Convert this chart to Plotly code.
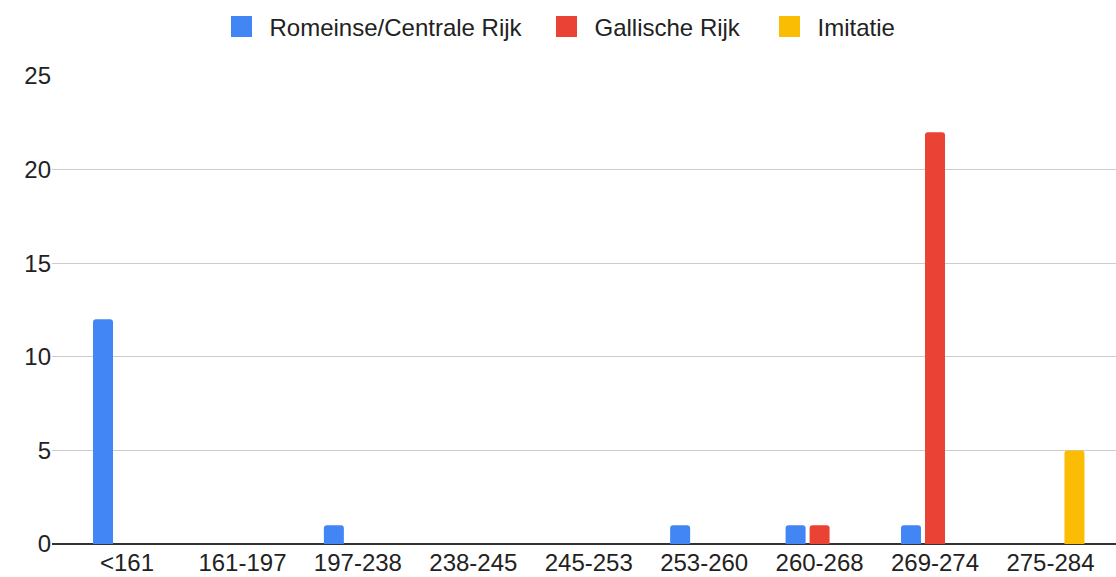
import plotly.graph_objects as go

categories = ["<161", "161-197", "197-238", "238-245", "245-253", "253-260", "260-268", "269-274", "275-284"]
romeinse = [12, 0, 1, 0, 0, 1, 1, 1, 0]
gallische = [0, 0, 0, 0, 0, 0, 1, 22, 0]
imitatie = [0, 0, 0, 0, 0, 0, 0, 0, 5]
y_ticks = [0, 5, 10, 15, 20, 25]

series = [
    ("Romeinse/Centrale Rijk", romeinse, "#4285F4"),
    ("Gallische Rijk", gallische, "#EA4335"),
    ("Imitatie", imitatie, "#FBBC04"),
]
legend_ids = ["legend", "legend2", "legend3"]
legend_left_px = [227, 552, 775]

W, H = 1116, 577
FS = 24

fig = go.Figure()
for i, (name, vals, color) in enumerate(series):
    fig.add_trace(go.Bar(
        x=categories, y=vals, name=name,
        showlegend=False,
        marker=dict(color=color, line=dict(width=0)),
    ))
# legend entries with larger square swatches, one legend per entry
for i, (name, vals, color) in enumerate(series):
    fig.add_trace(go.Scatter(
        x=[None], y=[None], name=name, legend=legend_ids[i],
        mode="markers", showlegend=True, hoverinfo="skip",
        marker=dict(symbol="square", size=16, color=color,
                    line=dict(width=5, color=color)),
    ))

legend_common = dict(
    orientation="h", xanchor="left",
    yref="container", y=1 - 27 / H, yanchor="middle",
    font=dict(size=FS, color="#222222"),
    itemclick=False, itemsizing="trace", itemwidth=46,
    bgcolor="rgba(0,0,0,0)", borderwidth=0,
)
legend_layout = {}
for lid, lx in zip(legend_ids, legend_left_px):
    legend_layout[lid] = dict(legend_common, xref="container", x=(lx - 13.5) / W)

fig.update_layout(
    width=W, height=H,
    margin=dict(l=52, r=0, t=76, b=33),
    paper_bgcolor="white", plot_bgcolor="white",
    font=dict(family="Liberation Sans, Arial, sans-serif", size=FS, color="#222222"),
    barmode="group",
    bargap=0.376, bargroupgap=0.167,
    barcornerradius=3,
    xaxis=dict(
        type="category", range=[-0.65, 8.568],
        showgrid=False, ticks="", showline=False, zeroline=False,
        tickfont=dict(size=FS, color="#222222"),
        ticklabelstandoff=2, automargin=False,
    ),
    yaxis=dict(
        range=[0, 25], tickvals=y_ticks, ticktext=[str(v) for v in y_ticks],
        showgrid=True, gridcolor="#cccccc", gridwidth=1,
        zeroline=True, zerolinecolor="#333333", zerolinewidth=1.5,
        ticks="", showline=False, automargin=False,
        tickfont=dict(size=FS, color="#222222"),
    ),
    **legend_layout,
)

fig.write_html("out.html", config={"displayModeBar": False},
               post_script="document.body.style.margin='0';")
